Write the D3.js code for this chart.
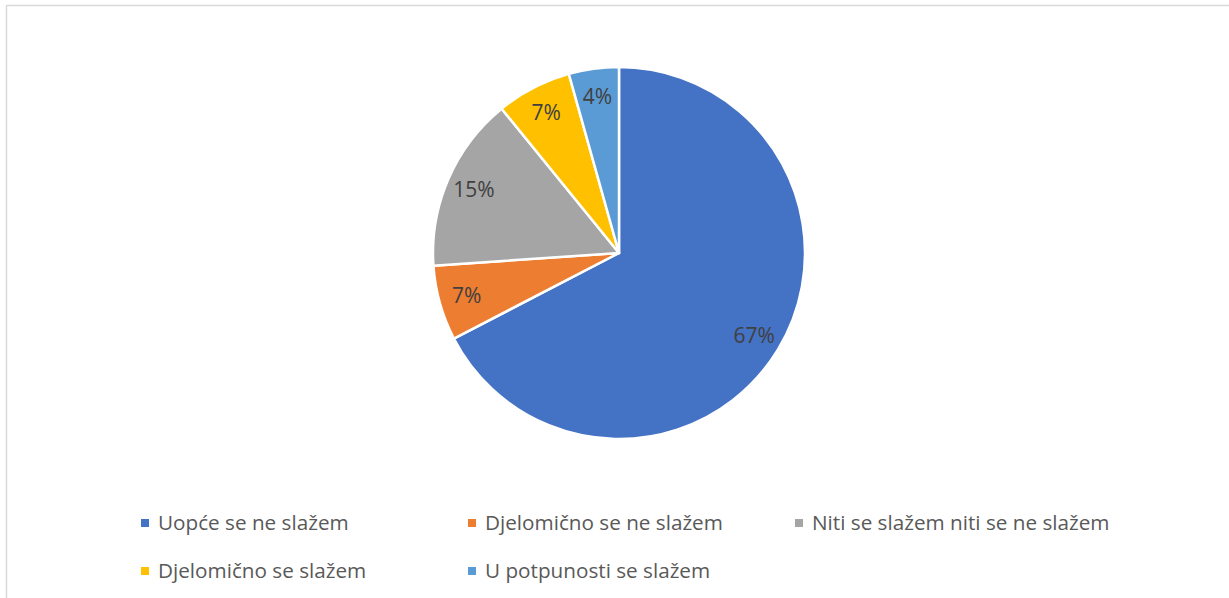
<!DOCTYPE html>
<html>
<head>
<meta charset="utf-8">
<script src="https://cdn.jsdelivr.net/npm/d3@7"></script>
<style>
  html, body { margin: 0; padding: 0; background: #fff; }
  svg { display: block; font-family: "Open Sans", Lato, sans-serif; }
</style>
</head>
<body>
<div id="chart"></div>
<script>
// ---------------- data ----------------
const categories = [
  "Uopće se ne slažem",
  "Djelomično se ne slažem",
  "Niti se slažem niti se ne slažem",
  "Djelomično se slažem",
  "U potpunosti se slažem"
];
const counts = [31, 3, 7, 3, 2];
const colors = ["#4472c4", "#ed7d31", "#a5a5a5", "#ffc000", "#5b9bd5"];

// ---------------- layout ----------------
const width = 1229, height = 598;
const cx = 619, cy = 253, R = 186;

const svg = d3.select("#chart").append("svg")
  .attr("width", width)
  .attr("height", height);

// chart frame
svg.append("rect")
  .attr("x", 6.5).attr("y", 5.5)
  .attr("width", width + 10).attr("height", height + 10)
  .attr("fill", "none")
  .attr("stroke", "#d9d9d9")
  .attr("stroke-width", 1.5);

const total = d3.sum(counts);
const data = categories.map((c, i) => ({ name: c, value: counts[i], color: colors[i] }));

const pie = d3.pie().value(d => d.value).sort(null);
const arc = d3.arc().innerRadius(0).outerRadius(R);
const labelArc = d3.arc().innerRadius(R * 0.85).outerRadius(R * 0.85);

const g = svg.append("g").attr("transform", `translate(${cx},${cy})`);
const arcs = pie(data);

g.selectAll("path")
  .data(arcs)
  .join("path")
  .attr("d", arc)
  .attr("fill", d => d.data.color)
  .attr("stroke", "#fff")
  .attr("stroke-width", 2.5)
  .attr("stroke-linejoin", "round");

g.selectAll("text")
  .data(arcs)
  .join("text")
  .attr("transform", d => `translate(${labelArc.centroid(d)})`)
  .attr("text-anchor", "middle")
  .attr("dy", "0.35em")
  .attr("fill", "#404040")
  .attr("font-size", 21)
  .text(d => Math.round(d.data.value / total * 100) + "%");

// ---------------- legend ----------------
const legendX = d3.scalePoint().domain([0, 1, 2]).range([141, 795]);
const legendY = d3.scalePoint().domain([0, 1]).range([523, 571]);

const items = svg.append("g").selectAll("g")
  .data(data)
  .join("g")
  .attr("transform", (d, i) => `translate(${legendX(i % 3)},${legendY(Math.floor(i / 3))})`);

items.append("rect")
  .attr("x", 0).attr("y", -4)
  .attr("width", 8).attr("height", 8)
  .attr("fill", d => d.color);

items.append("text")
  .attr("x", 17)
  .attr("dy", "0.35em")
  .attr("fill", "#595959")
  .attr("font-size", 20.7)
  .text(d => d.name);
</script>
</body>
</html>
